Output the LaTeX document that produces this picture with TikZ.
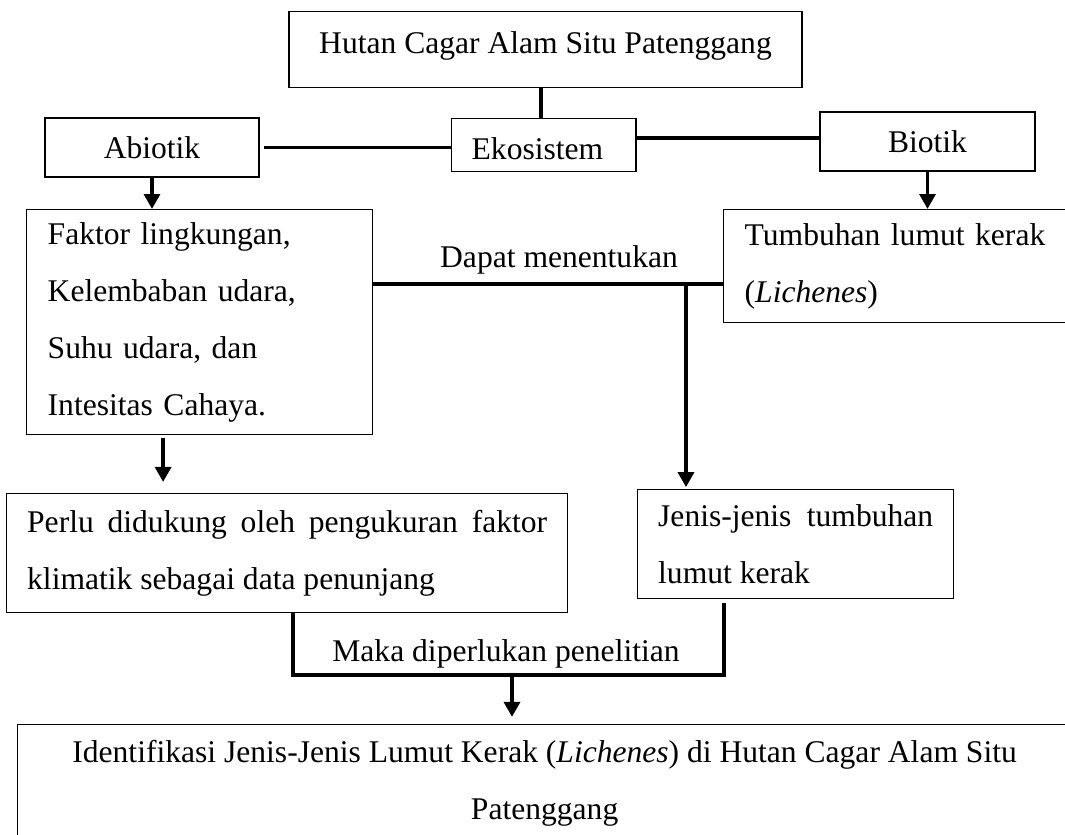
\documentclass[tikz,border=0pt]{standalone}
\usepackage{fontspec}
\setmainfont{Liberation Serif}
\usetikzlibrary{arrows.meta}
\begin{document}
\begin{tikzpicture}[x=0.38pt,y=-0.38pt,
    box/.style={draw,line width=0.5pt,inner sep=0pt,font=\fontsize{12}{21.7}\selectfont},
    leftbox/.style={box,anchor=north west,align=left,inner xsep=7.8pt},
    label/.style={font=\fontsize{12}{14}\selectfont},
    bar/.style={line width=1.5pt},
    arrow/.style={line width=1.5pt,-{Triangle[width=6pt,length=5.7pt]}}]
    \useasboundingbox (0,0) rectangle (1065,834);
    \clip (0,0) rectangle (1065,834);
    \node[box,anchor=north,minimum width=194.9pt,text height=15.8pt,text depth=13.1pt] (hutan) at (545.5,11) {Hutan Cagar Alam Situ Patenggang};
    \node[box,minimum width=81.3pt,minimum height=22.4pt] (abiotik) at (152,147.5) {Abiotik};
    \node[box,anchor=north west,inner xsep=7.6pt,text width=54.9pt,text height=15.4pt,text depth=4.7pt] (ekosistem) at (451,118) {Ekosistem};
    \node[box,minimum width=81.7pt,minimum height=22.4pt] (biotik) at (927.5,141.5) {Biotik};
    \node[leftbox,text width=115.5pt,minimum width=131.5pt,minimum height=85.5pt] (faktor) at (26,209) {Faktor lingkungan,\\Kelembaban udara,\\Suhu udara, dan\\Intesitas Cahaya.};
    \node[leftbox,text width=120.8pt,minimum width=136.8pt,minimum height=42.9pt] (tumbuhan) at (723,209) {Tumbuhan lumut kerak\\(\textit{Lichenes})};
    \node[leftbox,align=justify,text width=197.6pt,minimum width=213.2pt,minimum height=45.2pt] (perlu) at (6,493) {Perlu didukung oleh pengukuran faktor\linebreak klimatik sebagai data penunjang};
    \node[leftbox,align=justify,text width=104.5pt,minimum width=119.7pt,minimum height=41.4pt] (jenis) at (637,489) {Jenis-jenis tumbuhan\linebreak lumut kerak};
    \node[box,anchor=north west,align=center,minimum width=400.5pt,minimum height=44.5pt] (identifikasi) at (17,724) {Identifikasi Jenis-Jenis Lumut Kerak (\textit{Lichenes}) di Hutan Cagar Alam Situ\\Patenggang};
    \node[label] (dapat) at (559,260) {Dapat menentukan};
    \node[label] (maka) at (506,654) {Maka diperlukan penelitian};
    \coordinate (cabang) at (686,283);
    \coordinate (gabung) at (512,675);
    \draw[bar] ([xshift=-1pt]ekosistem.north) -- ([xshift=-1pt]ekosistem.north |- hutan.south);
    \draw[bar,shorten <=1.5pt] (abiotik.east) -- (abiotik.east -| ekosistem.west);
    \draw[bar] ([yshift=1.3pt]biotik.west) -- ([yshift=1.3pt]biotik.west -| ekosistem.east);
    \draw[arrow] (abiotik.south) -- (abiotik.south |- faktor.north);
    \draw[arrow] (biotik.south) -- (biotik.south |- tumbuhan.north);
    \draw[bar] ([yshift=-6.65pt]tumbuhan.west) -- ([yshift=-6.65pt]tumbuhan.west -| faktor.east);
    \draw[arrow,shorten >=0.7pt] (cabang) -- (cabang |- jenis.north);
    \draw[arrow,shorten <=1pt,shorten >=4.2pt] ([xshift=52.1pt]faktor.south west) -- ([xshift=52.1pt]faktor.south west |- perlu.north);
    \draw[bar] ([xshift=109.1pt]perlu.south west) |- ([xshift=33.1pt]jenis.south west |- gabung) -- ([xshift=33.1pt,yshift=-1.5pt]jenis.south west);
    \draw[arrow,shorten >=2.7pt] (gabung) -- (gabung |- identifikasi.north);
\end{tikzpicture}
\end{document}
